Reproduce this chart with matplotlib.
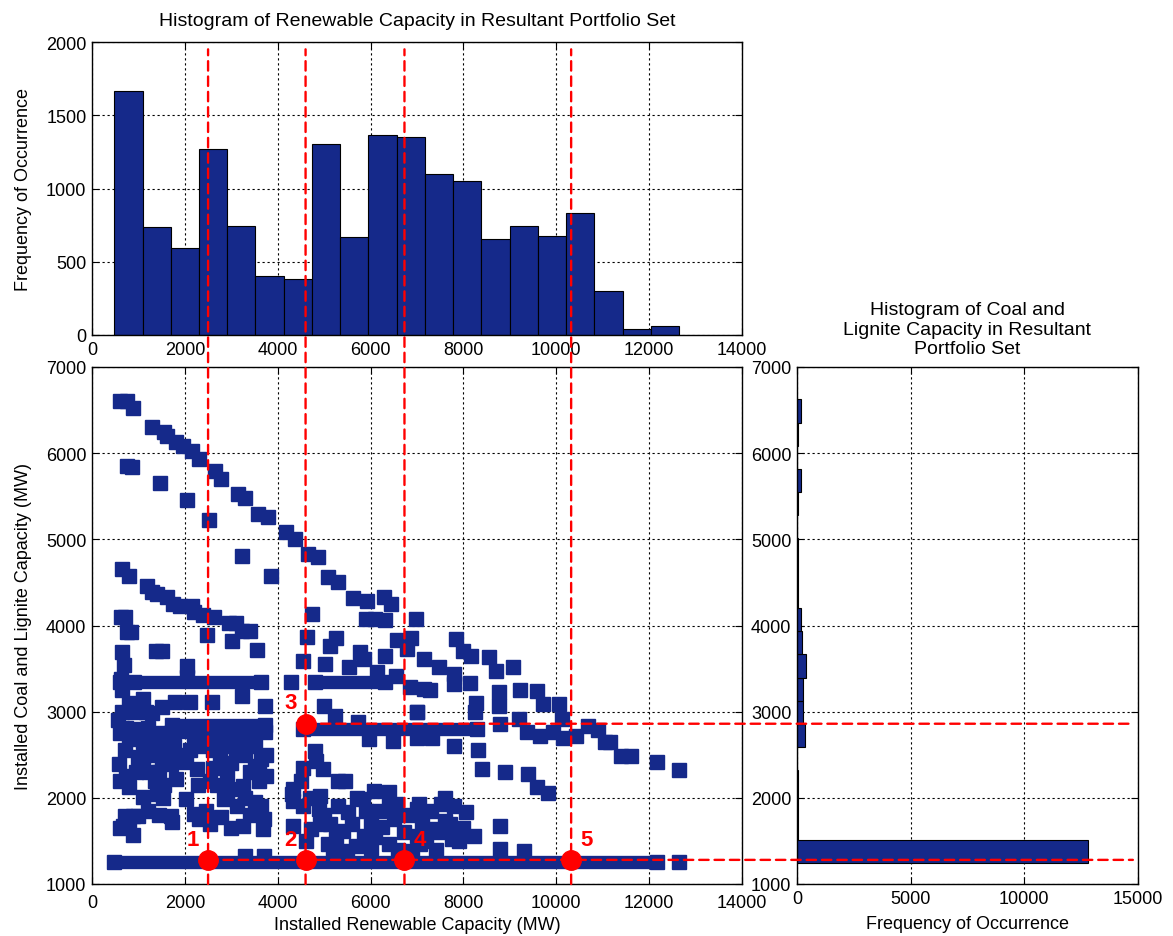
import matplotlib
matplotlib.use("Agg")
import matplotlib.pyplot as plt
import matplotlib.transforms as mtrans
from matplotlib.patches import ConnectionPatch

plt.rcParams['font.family'] = ['Liberation Sans', 'DejaVu Sans']

# ---- data -------------------------------------------------------------
# histogram of renewable capacity (bin centres, counts)
ren_centers = [784, 1392, 2000, 2608, 3217, 3825, 4433, 5041, 5649, 6257,
               6866, 7474, 8082, 8690, 9298, 9906, 10515, 11123, 11731, 12339]
ren_counts = [1667, 737, 597, 1268, 746, 404, 385, 1304, 666, 1366,
              1352, 1097, 1051, 652, 746, 675, 830, 299, 43, 62]
ren_width = 608

# histogram of coal and lignite capacity
coal_centers = [1379, 1648, 1917, 2186, 2455, 2724, 2993, 3262, 3531, 3800,
                4069, 4338, 4607, 4876, 5145, 5414, 5683, 5952, 6221, 6490]
coal_counts = [12780, 35, 40, 30, 0, 340, 265, 265, 400, 235,
               160, 25, 25, 25, 0, 45, 178, 0, 45, 178]
coal_height = 269

# scattered portfolios (renewable MW, coal+lignite MW)
pts_x = [605, 748, 876, 1303, 1550, 1623, 1801, 1950, 2157, 2299, 2655, 2783,
         3153, 3296, 3580, 3794, 4185, 4363, 4648, 4862, 5075, 5289, 5630, 5915,
         6285, 6450, 5900, 6100, 6300, 6984,
         750, 860, 1467, 2043, 2513, 3239, 3865, 4748,
         648, 790, 1175, 1282, 1400, 1623, 1744, 1900, 2157, 2193, 2400, 2620,
         2940, 3100, 3225, 3400,
         627, 700, 748, 840, 1374, 1500, 648, 698, 627, 2477, 3011, 3545, 2050,
         2050, 648, 1161, 1300, 734, 805, 1196, 1317, 2121, 1787, 2584, 3225,
         3723, 1500, 900,
         1765, 2015, 2264, 1694, 1801, 2285, 577, 734, 805, 983, 1232, 1350,
         1104, 1531, 2015, 876, 700, 1000, 662, 890, 1694, 1730, 2193, 2300,
         2904, 3260, 3509, 2833, 3118, 3509, 2783, 3260, 3687, 2940, 2600, 2750,
         3100, 3300, 3500, 3650, 2650, 3000, 3400, 2700, 3000, 3600, 2500, 2300,
         2200, 2100, 1800, 1500, 1300, 1100, 3300, 3700,
         2600, 2800, 3200, 3400, 3600, 3750, 3750, 2550, 2900, 3300, 3650, 3700,
         2450, 2550, 3000, 3400,
         550, 600, 700, 600, 950, 1100, 1250, 1450, 1550, 1400, 1200, 1450,
         600, 800, 1550, 1650, 1450, 1000, 900, 650, 800, 1100,
         4620, 5259, 5131, 4549, 5010, 5770, 5863, 5543, 6310, 6573, 6786, 6147,
         6537, 6857, 7141, 4279, 4989, 5238, 5721, 6998, 5969, 6480, 4797, 4833,
         4549, 4975, 5458, 5300, 4336, 4535, 4918, 4890, 5508, 5841, 6076, 6395,
         6551, 6182, 5117, 5401, 4726, 5863, 6253, 6714, 7105, 7034, 5081, 5685,
         6395, 7070, 4336, 4336, 5200, 5500, 6000, 6600, 6900, 4300,
         5000, 5300, 5600, 5700, 6000, 6100, 6500, 6800, 7300, 7500, 7700, 7900,
         7400, 5900, 5250, 4600, 4900, 6400, 7200, 8000, 7800, 7600, 4500, 4700,
         6860, 7839, 7989, 8168, 8555, 8698, 9057, 9221, 9580, 9723, 10060, 10117,
         7144, 7466, 7788, 7788, 7287, 8132, 8268, 8254, 8756, 8756, 8792, 9207,
         7000, 9365, 9651, 9923, 10153, 10418, 10690, 10905, 11049, 11156, 11400,
         11600, 12159, 12646, 7000, 7323, 7788, 8304, 8397, 8885, 9401, 9580,
         9830, 7000, 7516, 7609, 8061, 8218, 7000, 7323, 7753, 8792, 8792, 9307,
         12646]
pts_y = [6606, 6606, 6521, 6308, 6250, 6200, 6134, 6080, 6029, 5933, 5797, 5700,
         5527, 5476, 5294, 5256, 5082, 5004, 4830, 4791, 4560, 4502, 4316, 4289,
         4335, 4250, 4080, 4080, 4060, 4076,
         5850, 5844, 5658, 5461, 5229, 4811, 4579, 4134,
         4656, 4571, 4459, 4386, 4360, 4327, 4250, 4230, 4223, 4153, 4120, 4095,
         4030, 4030, 3940, 3940,
         4095, 4100, 3921, 3921, 3708, 3700, 3689, 3542, 3380, 3890, 3825, 3720, 3534,
         3400, 3001, 2993, 2990, 2807, 2684, 2807, 2645, 3109, 3109, 3109, 3179,
         3070, 3050, 3000,
         2606, 2413, 2335, 2393, 2219, 2150, 2393, 2258, 2123, 2471, 2297, 2200,
         2007, 1995, 1987, 1794, 1794, 1794, 1678, 1570, 1794, 1716, 1813, 1760,
         2277, 2142, 2374, 1987, 1910, 1949, 1775, 1678, 1639, 2664, 2550, 2450,
         2550, 2500, 2600, 2450, 2650, 2400, 2300, 2150, 2100, 2200, 2700, 2600,
         2700, 2550, 2500, 2450, 2600, 2650, 1320, 1320,
         2350, 2600, 2700, 2650, 2350, 2500, 2250, 2200, 2050, 2000, 1900, 1750,
         1850, 1700, 1650, 1800,
         2900, 2750, 2550, 2200, 2300, 2450, 2500, 2300, 2150, 2050, 1850, 1800,
         1650, 1700, 2600, 2500, 2750, 2800, 3350, 3250, 3100, 3150,
         3863, 3852, 3759, 3592, 3554, 3697, 3612, 3515, 3643, 3836, 3728, 3457,
         3418, 3283, 3264, 3349, 3062, 2946, 2885, 2993, 2684, 2664, 2548, 2432,
         2343, 2335, 2200, 2200, 1968, 1910, 2026, 1871, 1832, 1987, 2084, 2065,
         1929, 1852, 1697, 1620, 1639, 1562, 1658, 1600, 1697, 1929, 1465, 1446,
         1465, 1465, 1678, 2100, 1400, 1380, 1420, 1400, 1380, 2050,
         1800, 1900, 1700, 2000, 1700, 1550, 1750, 1800, 1850, 1600, 1700, 1500,
         1400, 1850, 1550, 1500, 1700, 1900, 1500, 1650, 1900, 2000, 2200, 2000,
         3850, 3844, 3708, 3650, 3631, 3476, 3515, 3256, 3244, 3090, 3090, 2915,
         3612, 3515, 3438, 3322, 3256, 3333, 3101, 2993, 3225, 3070, 2857, 2915,
         3001, 2769, 2722, 2761, 2691, 2714, 2830, 2792, 2652, 2645, 2490,
         2490, 2413, 2328, 2691, 2691, 2606, 2560, 2335, 2297, 2277, 2123,
         2057, 1871, 1929, 1736, 1832, 1562, 1562, 1639, 1523, 1678, 1407, 1388,
         1255]

# dense rows of portfolios (start MW, end MW, coal MW)
band_x0 = [480, 1730, 1730, 600, 4550, 4800]
band_x1 = [12160, 3730, 3730, 3650, 8290, 6320]
band_y = [1255, 2840, 2765, 3340, 2800, 3345]

# highlighted portfolios
sel_x = [2500, 4600, 4600, 6730, 10320]
sel_y = [1280, 1280, 2860, 1280, 1280]
sel_labels = ['1', '2', '3', '4', '5']
vline_x = [2500, 4600, 6730, 10320]
hline_start = [(2500, 1280), (4600, 2860)]

# ---- figure -------------------------------------------------------------
navy = '#15298a'
W, H = 1173, 937
fig = plt.figure(figsize=(W / 100, H / 100), dpi=100)


def rect(l, t, r, b):
    return [l / W, 1 - b / H, (r - l) / W, (b - t) / H]


ax_top = fig.add_axes(rect(92, 43, 742, 336))
ax_sc = fig.add_axes(rect(92, 368, 742, 885))
ax_h = fig.add_axes(rect(797, 368, 1138, 885))

for ax in (ax_top, ax_sc, ax_h):
    ax.set_axisbelow(True)
    ax.grid(True, color='k', linestyle=(0, (2, 2.5)), linewidth=0.8)
    ax.tick_params(direction='in', top=True, right=True, length=5,
                   labelsize=13, pad=4)
    for s in ax.spines.values():
        s.set_linewidth(1.0)
ax_sc.tick_params(axis='x', pad=7)

# top histogram
ax_top.bar(ren_centers, ren_counts, width=ren_width, color=navy,
           edgecolor='k', linewidth=0.8)
ax_top.set_xlim(0, 14000)
ax_top.set_ylim(0, 2000)
ax_top.set_xticks(range(0, 14001, 2000))
ax_top.set_yticks(range(0, 2001, 500))
ax_top.set_ylabel('Frequency of Occurrence', fontsize=13, labelpad=10)
ax_top.set_title('Histogram of Renewable Capacity in Resultant Portfolio Set',
                 fontsize=14, pad=12)

# scatter
for x0, x1, y in zip(band_x0, band_x1, band_y):
    ax_sc.plot([x0, x1], [y, y], color=navy, lw=9.6, solid_capstyle='butt',
               marker='s', ms=9.6, mec=navy, zorder=2)
ax_sc.plot(pts_x, pts_y, 's', ms=9.6, color=navy, mec=navy, zorder=2)
ax_sc.plot(sel_x, sel_y, 'o', ms=14, color='red', mec='red', zorder=6)
for x, y, lab in zip(sel_x, sel_y, sel_labels):
    dx = -11 if x < 5000 else 11
    ax_sc.annotate(lab, (x, y), xytext=(dx, 15), textcoords='offset points',
                   color='red', fontsize=16, fontweight='bold',
                   ha='center', va='center', zorder=7)
ax_sc.set_xlim(0, 14000)
ax_sc.set_ylim(1000, 7000)
ax_sc.set_xticks(range(0, 14001, 2000))
ax_sc.set_yticks(range(1000, 7001, 1000))
ax_sc.set_xlabel('Installed Renewable Capacity (MW)', fontsize=13, labelpad=4)
ax_sc.set_ylabel('Installed Coal and Lignite Capacity (MW)', fontsize=13,
                 labelpad=10)

# right histogram
ax_h.barh(coal_centers, coal_counts, height=coal_height, color=navy,
          edgecolor='k', linewidth=0.8)
ax_h.set_xlim(0, 15000)
ax_h.set_ylim(1000, 7000)
ax_h.set_xticks(range(0, 15001, 5000))
ax_h.set_yticks(range(1000, 7001, 1000))
ax_h.set_xlabel('Frequency of Occurrence', fontsize=13, labelpad=6)
ax_h.set_title('Histogram of Coal and\nLignite Capacity in Resultant\nPortfolio Set',
               fontsize=14, pad=10, linespacing=1.2)

# red guide lines running across the panels
dash = dict(color='red', lw=1.7, linestyle=(0, (4, 2.5)), zorder=10,
            shrinkA=0, shrinkB=0)
sc_xbot = mtrans.blended_transform_factory(ax_sc.transData, ax_sc.transAxes)
for x in vline_x:
    fig.add_artist(ConnectionPatch(xyA=(x, 0), coordsA=sc_xbot,
                                   xyB=(x, 1950), coordsB=ax_top.transData,
                                   **dash))
h_right = mtrans.blended_transform_factory(ax_h.transAxes, ax_h.transData)
for x, y in hline_start:
    fig.add_artist(ConnectionPatch(xyA=(x, y), coordsA=ax_sc.transData,
                                   xyB=(0.985, y), coordsB=h_right, **dash))

fig.savefig('out.png', dpi=100)
